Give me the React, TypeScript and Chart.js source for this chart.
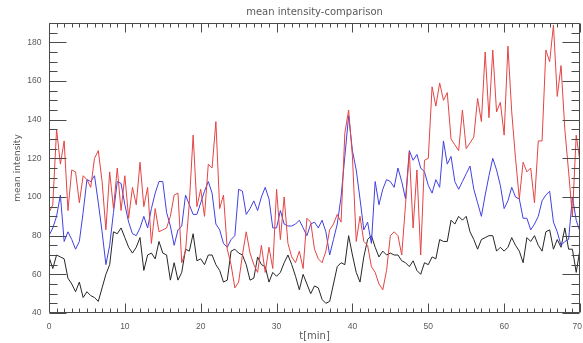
import React, { useEffect, useRef } from "react";
import { Chart, registerables } from "chart.js";

Chart.register(...registerables);

// time axis, minutes
const TIME_MIN = [
  0, 0.5, 1, 1.5, 2, 2.5, 3, 3.5, 4, 4.5,
  5, 5.5, 6, 6.5, 7, 7.5, 8, 8.5, 9, 9.5,
  10, 10.5, 11, 11.5, 12, 12.5, 13, 13.5, 14, 14.5,
  15, 15.5, 16, 16.5, 17, 17.5, 18, 18.5, 19, 19.5,
  20, 20.5, 21, 21.5, 22, 22.5, 23, 23.5, 24, 24.5,
  25, 25.5, 26, 26.5, 27, 27.5, 28, 28.5, 29, 29.5,
  30, 30.5, 31, 31.5, 32, 32.5, 33, 33.5, 34, 34.5,
  35, 35.5, 36, 36.5, 37, 37.5, 38, 38.5, 39, 39.5,
  40, 40.5, 41, 41.5, 42, 42.5, 43, 43.5, 44, 44.5,
  45, 45.5, 46, 46.5, 47, 47.5, 48, 48.5, 49, 49.5,
  50, 50.5, 51, 51.5, 52, 52.5, 53, 53.5, 54, 54.5,
  55, 55.5, 56, 56.5, 57, 57.5, 58, 58.5, 59, 59.5,
  60, 60.5, 61, 61.5, 62, 62.5, 63, 63.5, 64, 64.5,
  65, 65.5, 66, 66.5, 67, 67.5, 68, 68.5, 69, 69.5,
  70,
];

const BLACK_SERIES = [
  69, 63, 70, 69, 68, 58, 55, 51, 56, 48,
  51, 49, 48, 46, 53, 60, 65, 82, 81, 84,
  79, 74, 71, 74, 79, 62, 70, 71, 68, 77,
  71, 70, 57, 66, 57, 61, 73, 72, 81, 67,
  68, 65, 70, 70, 65, 62, 56, 57, 72, 73,
  71, 70, 65, 57, 58, 69, 65, 64, 56, 61,
  59, 61, 66, 70, 65, 59, 52, 60, 55, 50,
  54, 53, 47, 45, 46, 55, 64, 66, 65, 80,
  70, 61, 56, 69, 78, 80, 74, 69, 72, 70,
  71, 70, 70, 67, 66, 64, 67, 62, 60, 66,
  65, 69, 68, 78, 77, 77, 88, 86, 90, 88,
  90, 82, 78, 73, 78, 79, 80, 80, 72, 74,
  72, 74, 79, 75, 72, 66, 79, 77, 80, 75,
  72, 82, 83, 73, 78, 74, 84, 73, 73, 61,
  73,
];

const BLUE_SERIES = [
  80, 84, 90, 101, 77, 82, 78, 73, 77, 92,
  109, 108, 111, 97, 82, 65, 75, 92, 108, 107,
  96, 87, 81, 80, 84, 90, 84, 94, 102, 108,
  108, 92, 85, 75, 83, 85, 101, 96, 91, 91,
  97, 103, 108, 102, 86, 83, 76, 74, 78, 80,
  104, 103, 91, 94, 98, 93, 100, 105, 99, 84,
  84, 93, 86, 85, 85, 86, 88, 84, 80, 86,
  87, 84, 88, 82, 70, 78, 86, 100, 121, 142,
  124, 114, 99, 83, 87, 76, 108, 96, 104, 109,
  108, 105, 115, 108, 99, 124, 119, 122, 115, 113,
  106, 102, 109, 105, 129, 117, 121, 108, 104, 108,
  112, 116, 104, 97, 90, 101, 111, 120, 114, 106,
  94, 98, 105, 100, 99, 89, 89, 83, 86, 90,
  98, 101, 103, 87, 82, 75, 77, 78, 100, 88,
  82,
];

const RED_SERIES = [
  92, 96, 135, 117, 129, 93, 114, 113, 97, 111,
  109, 105, 120, 124, 108, 83, 113, 94, 115, 93,
  111, 89, 105, 96, 118, 95, 105, 76, 94, 82,
  83, 84, 90, 101, 102, 66, 72, 97, 132, 95,
  104, 90, 117, 115, 139, 94, 101, 73, 65, 53,
  56, 70, 82, 71, 65, 61, 75, 61, 74, 63,
  104, 78, 100, 76, 69, 66, 72, 63, 89, 87,
  73, 68, 66, 72, 83, 86, 91, 87, 133, 145,
  121, 77, 90, 77, 75, 64, 61, 55, 52, 62,
  80, 82, 80, 70, 96, 123, 84, 114, 70, 119,
  120, 157, 147, 159, 150, 154, 130, 127, 124, 145,
  125, 128, 131, 151, 139, 175, 141, 176, 144, 149,
  132, 178, 144, 120, 99, 118, 113, 115, 97, 129,
  129, 176, 170, 189, 152, 168, 135, 113, 90, 132,
  118,
];

const X_TICK_LABELS = [0, 10, 20, 30, 40, 50, 60, 70];
const Y_TICK_LABELS = [40, 60, 80, 100, 120, 140, 160, 180];

const TITLE = "mean intensity-comparison";
const X_TITLE = "t[min]";
const Y_TITLE = "mean intensity";

const X_MIN = 0;
const X_MAX = 70;
const Y_MIN = 40;
const Y_MAX = 190;

const TEXT_COLOR = "#5a5a5a";
const AXIS_COLOR = "#4a4a4a";

const idlAxesPlugin = {
  id: "idlAxes",
  afterDatasetsDraw(chart: any) {
    const { ctx, chartArea, scales, width } = chart;
    const xs = scales.x;
    const ys = scales.y;
    const L = Math.round(chartArea.left) + 0.5;
    const R = Math.round(chartArea.right) - 0.5;
    const T = Math.round(chartArea.top) + 0.5;
    const B = Math.round(chartArea.bottom) - 0.5;
    ctx.save();
    ctx.strokeStyle = AXIS_COLOR;
    ctx.lineWidth = 1;
    ctx.beginPath();
    ctx.rect(L, T, R - L, B - T);
    ctx.stroke();

    ctx.beginPath();
    for (let v = X_MIN; v <= X_MAX; v += 1) {
      const px = Math.round(xs.getPixelForValue(v)) + 0.5;
      const len = v % 10 === 0 ? 9 : 4;
      ctx.moveTo(px, B);
      ctx.lineTo(px, B - len);
      ctx.moveTo(px, T);
      ctx.lineTo(px, T + len);
    }
    for (let v = Y_MIN; v <= Y_MAX; v += 5) {
      const py = Math.round(ys.getPixelForValue(v)) + 0.5;
      const len = (v - Y_MIN) % 20 === 0 ? 17 : 8;
      ctx.moveTo(L, py);
      ctx.lineTo(L + len, py);
      ctx.moveTo(R, py);
      ctx.lineTo(R - len, py);
    }
    ctx.stroke();

    ctx.fillStyle = TEXT_COLOR;
    ctx.font = "8.5px 'Liberation Sans', sans-serif";
    ctx.textAlign = "center";
    ctx.textBaseline = "middle";
    X_TICK_LABELS.forEach((v) => {
      const label = String(v);
      const half = ctx.measureText(label).width / 2;
      const cx = Math.min(xs.getPixelForValue(v), width - half - 1);
      ctx.fillText(label, cx, B + 14);
    });
    ctx.textAlign = "right";
    Y_TICK_LABELS.forEach((v) => {
      ctx.fillText(String(v), L - 8, ys.getPixelForValue(v));
    });

    ctx.font = "10px 'DejaVu Sans', sans-serif";
    ctx.textAlign = "center";
    ctx.fillText(TITLE, (L + R) / 2, 12);
    ctx.fillText(X_TITLE, (L + R) / 2, 336);
    ctx.save();
    ctx.translate(18, (T + B) / 2);
    ctx.rotate(-Math.PI / 2);
    ctx.font = "9px 'DejaVu Sans', sans-serif";
    ctx.fillText(Y_TITLE, 0, 0);
    ctx.restore();
    ctx.restore();
  },
};

function toPoints(values: number[]) {
  return values.map((y, i) => ({ x: TIME_MIN[i], y }));
}

export default function App() {
  const canvasRef = useRef<HTMLCanvasElement | null>(null);

  useEffect(() => {
    document.body.style.margin = "0";
    const canvas = canvasRef.current;
    if (!canvas) return;
    const chart = new Chart(canvas, {
      type: "line",
      data: {
        datasets: [
          {
            label: "black",
            data: toPoints(BLACK_SERIES),
            borderColor: "#262626",
            borderWidth: 1,
            order: 3,
          },
          {
            label: "blue",
            data: toPoints(BLUE_SERIES),
            borderColor: "#4040e4",
            borderWidth: 1,
            order: 2,
          },
          {
            label: "red",
            data: toPoints(RED_SERIES),
            borderColor: "#e44444",
            borderWidth: 1,
            order: 1,
          },
        ],
      },
      options: {
        responsive: false,
        animation: false,
        devicePixelRatio: 1,
        layout: { padding: { left: 49, right: 3, top: 23, bottom: 30 } },
        elements: {
          point: { radius: 0 },
          line: { tension: 0, fill: false },
        },
        plugins: {
          legend: { display: false },
          tooltip: { enabled: false },
          title: { display: false },
        },
        scales: {
          x: { type: "linear", min: X_MIN, max: X_MAX, display: false },
          y: { type: "linear", min: Y_MIN, max: Y_MAX, display: false },
        },
      },
      plugins: [idlAxesPlugin],
    });
    return () => chart.destroy();
  }, []);

  return (
    <div style={{ position: "absolute", left: 0, top: 0, width: 583, height: 343, background: "#ffffff" }}>
      <canvas ref={canvasRef} width={583} height={343} />
    </div>
  );
}
